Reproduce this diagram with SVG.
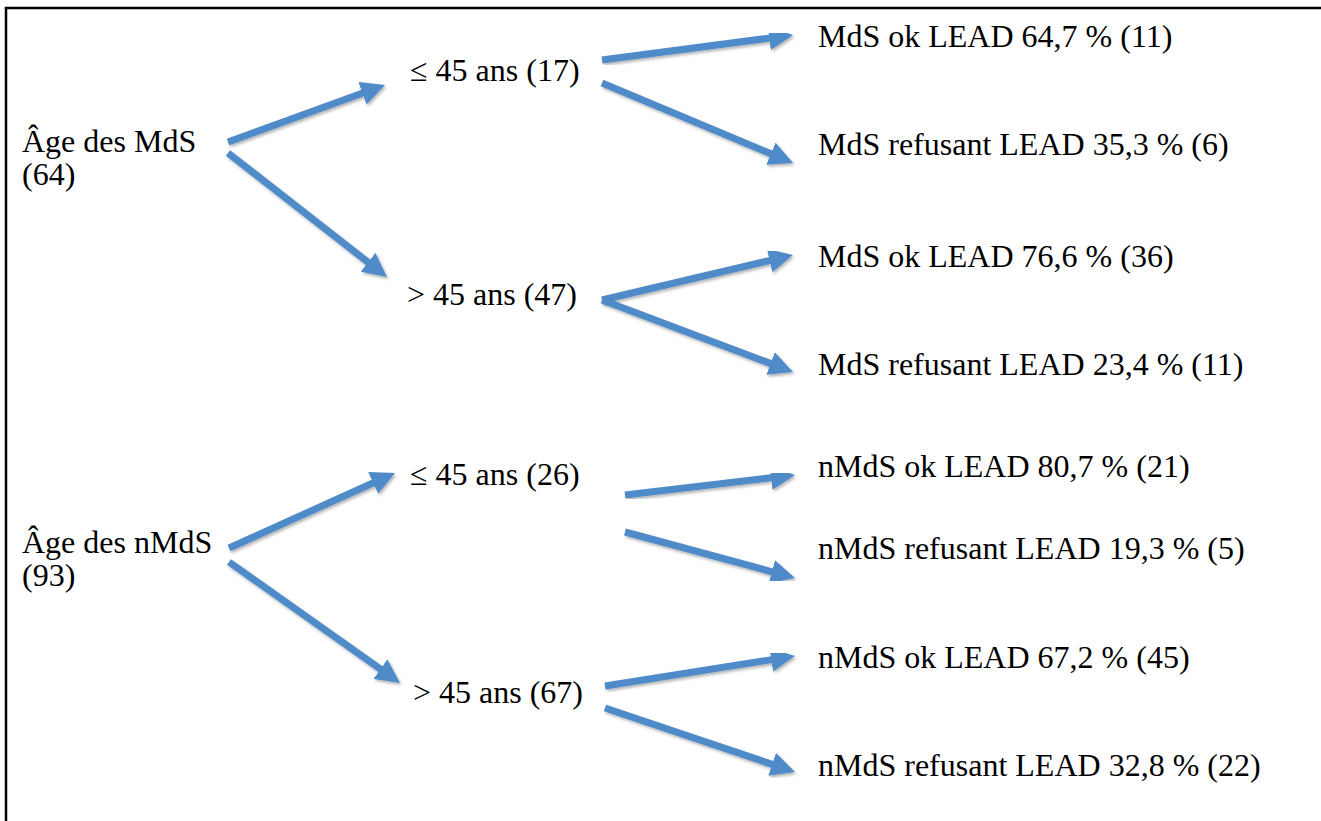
<svg xmlns="http://www.w3.org/2000/svg" width="1321" height="821" viewBox="0 0 1321 821">
<style>
text{font-family:"Liberation Serif","Times New Roman",serif;font-size:32px;fill:#000}
.c{stroke:#4F8BC8;stroke-width:7;fill:none;marker-end:url(#ah);filter:url(#sh)}
</style>
<defs>
<marker id="ah" markerUnits="userSpaceOnUse" markerWidth="26" markerHeight="24" refX="4" refY="12" orient="auto" viewBox="0 0 26 24">
<path d="M0,0 L24,12 L0,24 Z" fill="#4F8BC8"/>
</marker>
<filter id="sh" x="-20%" y="-20%" width="140%" height="140%">
<feDropShadow dx="1.5" dy="2" stdDeviation="1.5" flood-color="#000" flood-opacity="0.3"/>
</filter>
</defs>
<rect x="0" y="0" width="1321" height="821" fill="#fff"/>
<path d="M6,821 V8 H1321" fill="none" stroke="#000" stroke-width="2.5"/>
<g id="connectors">
<path class="c" d="M228,142 L366.2,91.8"/>
<path class="c" d="M228,153 L371.2,264.7"/>
<path class="c" d="M602,60 L773.2,37.6"/>
<path class="c" d="M602,83 L774.6,155.3"/>
<path class="c" d="M602,300 L773.5,259.6"/>
<path class="c" d="M602,300 L774.3,364.9"/>
<path class="c" d="M229,548 L376.8,481.2"/>
<path class="c" d="M229,562 L383.7,671.4"/>
<path class="c" d="M625,495 L775.1,477.3"/>
<path class="c" d="M625,532 L775.7,572.8"/>
<path class="c" d="M605,686 L775.2,659.1"/>
<path class="c" d="M605,708 L776,765.6"/>
</g>
<g id="n-mds"><text x="22" y="152">Âge des MdS</text><text x="22" y="185">(64)</text></g>
<g id="n-mds-le45"><text x="410" y="81">≤ 45 ans (17)</text></g>
<g id="n-mds-gt45"><text x="407" y="305">&gt; 45 ans (47)</text></g>
<g id="n-mds-le45-ok"><text x="818" y="47">MdS ok LEAD 64,7 % (11)</text></g>
<g id="n-mds-le45-ref"><text x="818" y="155">MdS refusant LEAD 35,3 % (6)</text></g>
<g id="n-mds-gt45-ok"><text x="818" y="267">MdS ok LEAD 76,6 % (36)</text></g>
<g id="n-mds-gt45-ref"><text x="818" y="375">MdS refusant LEAD 23,4 % (11)</text></g>
<g id="n-nmds"><text x="22" y="553">Âge des nMdS</text><text x="22" y="586">(93)</text></g>
<g id="n-nmds-le45"><text x="410" y="485">≤ 45 ans (26)</text></g>
<g id="n-nmds-gt45"><text x="413" y="703">&gt; 45 ans (67)</text></g>
<g id="n-nmds-le45-ok"><text x="818" y="477">nMdS ok LEAD 80,7 % (21)</text></g>
<g id="n-nmds-le45-ref"><text x="818" y="559">nMdS refusant LEAD 19,3 % (5)</text></g>
<g id="n-nmds-gt45-ok"><text x="818" y="668">nMdS ok LEAD 67,2 % (45)</text></g>
<g id="n-nmds-gt45-ref"><text x="818" y="776">nMdS refusant LEAD 32,8 % (22)</text></g>
</svg>
